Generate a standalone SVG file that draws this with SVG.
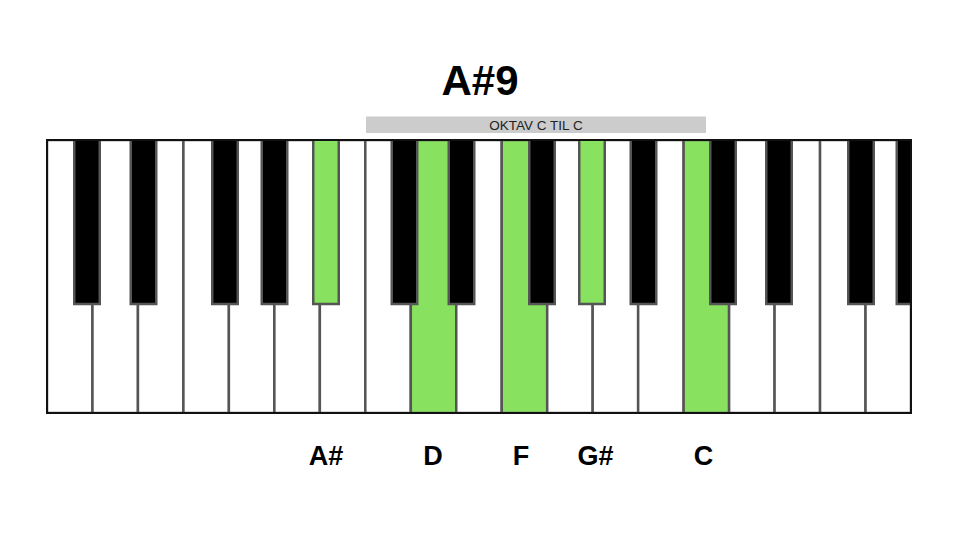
<svg xmlns="http://www.w3.org/2000/svg" width="960" height="540" viewBox="0 0 960 540">
  <defs>
    <style>
      .w { fill: #ffffff; stroke: #555555; stroke-width: 2.5; }
      .wg { fill: #88e25f; stroke: #555555; stroke-width: 2.5; }
      .b { fill: #000000; stroke: #555555; stroke-width: 2.5; }
      .bg { fill: #88e25f; stroke: #555555; stroke-width: 2.5; }
      .lbl { font-family: "Liberation Sans", Arial, sans-serif; font-weight: bold; fill: #000000; text-anchor: middle; }
    </style>
    <clipPath id="kb">
      <rect x="47" y="140" width="864" height="273"/>
    </clipPath>
  </defs>
  <rect width="960" height="540" fill="#ffffff"/>

  <g id="title">
    <text class="lbl" x="480" y="95" font-size="42">A#9</text>
  </g>

  <g id="octave-bar">
    <rect x="366" y="116.5" width="340" height="16.5" fill="#cccccc"/>
    <text x="536" y="130" font-family="Liberation Sans, Arial, sans-serif" font-size="13.5" fill="#222222" text-anchor="middle">OKTAV C TIL C</text>
  </g>

  <g id="keyboard" clip-path="url(#kb)">
    <g id="white-keys">
      <rect class="w" x="47" y="140" width="45.47" height="273"/>
      <rect class="w" x="92.47" y="140" width="45.47" height="273"/>
      <rect class="w" x="137.95" y="140" width="45.47" height="273"/>
      <rect class="w" x="183.42" y="140" width="45.47" height="273"/>
      <rect class="w" x="228.89" y="140" width="45.47" height="273"/>
      <rect class="w" x="274.37" y="140" width="45.47" height="273"/>
      <rect class="w" x="319.84" y="140" width="45.47" height="273"/>
      <rect class="w" x="365.32" y="140" width="45.47" height="273"/>
      <rect id="key-D" class="wg" x="410.79" y="140" width="45.47" height="273"/>
      <rect class="w" x="456.26" y="140" width="45.47" height="273"/>
      <rect id="key-F" class="wg" x="501.74" y="140" width="45.47" height="273"/>
      <rect class="w" x="547.21" y="140" width="45.47" height="273"/>
      <rect class="w" x="592.68" y="140" width="45.47" height="273"/>
      <rect class="w" x="638.16" y="140" width="45.47" height="273"/>
      <rect id="key-C" class="wg" x="683.63" y="140" width="45.47" height="273"/>
      <rect class="w" x="729.11" y="140" width="45.47" height="273"/>
      <rect class="w" x="774.58" y="140" width="45.47" height="273"/>
      <rect class="w" x="820.05" y="140" width="45.47" height="273"/>
      <rect class="w" x="865.53" y="140" width="45.47" height="273"/>
    </g>
    <g id="black-keys">
      <rect class="b" x="74.25" y="139" width="25.5" height="165"/>
      <rect class="b" x="130.75" y="139" width="25.5" height="165"/>
      <rect class="b" x="212.25" y="139" width="25.5" height="165"/>
      <rect class="b" x="261.75" y="139" width="25.5" height="165"/>
      <rect id="key-Asharp" class="bg" x="313.25" y="139" width="25.5" height="165"/>
      <rect class="b" x="391.75" y="139" width="25.5" height="165"/>
      <rect class="b" x="448.75" y="139" width="25.5" height="165"/>
      <rect class="b" x="529.25" y="139" width="25.5" height="165"/>
      <rect id="key-Gsharp" class="bg" x="579.25" y="139" width="25.5" height="165"/>
      <rect class="b" x="630.75" y="139" width="25.5" height="165"/>
      <rect class="b" x="710.25" y="139" width="25.5" height="165"/>
      <rect class="b" x="766.25" y="139" width="25.5" height="165"/>
      <rect class="b" x="848.25" y="139" width="25.5" height="165"/>
      <rect class="b" x="896.75" y="139" width="25.5" height="165"/>
    </g>
  </g>
  <rect id="frame" x="47" y="140" width="864" height="273" fill="none" stroke="#111111" stroke-width="2"/>

  <g id="labels">
    <text class="lbl" x="326" y="465" font-size="27">A#</text>
    <text class="lbl" x="433" y="465" font-size="27">D</text>
    <text class="lbl" x="521" y="465" font-size="27">F</text>
    <text class="lbl" x="595.5" y="465" font-size="27">G#</text>
    <text class="lbl" x="703.5" y="465" font-size="27">C</text>
  </g>
</svg>
